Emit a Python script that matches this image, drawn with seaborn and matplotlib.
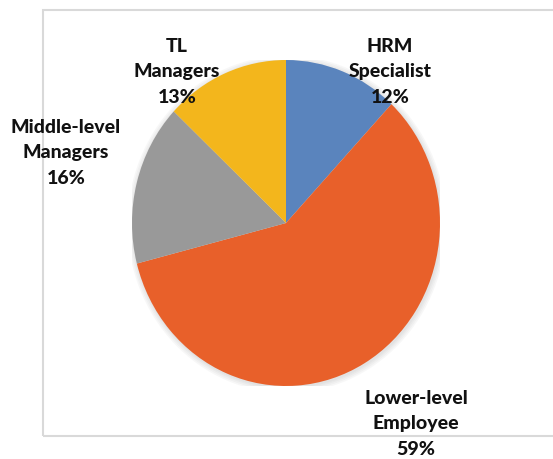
import matplotlib
matplotlib.use("Agg")
import matplotlib.pyplot as plt
import matplotlib.patches as mpatches
import seaborn as sns

# Share of respondents by position
categories = ["HRM\nSpecialist", "Lower-level\nEmployee", "Middle-level\nManagers", "TL\nManagers"]
shares = [12, 59, 16, 13]
colors = ["#5a84bd", "#e8602a", "#999999", "#f3b61c"]

sns.set_theme(style="white")
plt.rcParams["font.family"] = ["Lato", "DejaVu Sans"]

W, H = 553, 459
fig = plt.figure(figsize=(W / 100, H / 100), dpi=100)
fig.patch.set_facecolor("white")

# Light chart-area border (right side runs past the figure edge)
fig.patches.append(mpatches.Rectangle((43 / W, 1 - 436 / H), 560 / W, 426 / H,
                                      transform=fig.transFigure, fill=False,
                                      edgecolor="#d9d9d9", linewidth=1.5))

cx, cy, rx, ry = 286, 223, 154, 163
ax = fig.add_axes([(cx - rx) / W, 1 - (cy + ry) / H, 2 * rx / W, 2 * ry / H])

# soft shadow round the pie
for r in [1.035, 1.025, 1.015, 1.006]:
    ax.add_patch(mpatches.Circle((0.006, -0.008), r, color="#808080",
                                 alpha=0.06, linewidth=0, zorder=0))

wedges, _ = ax.pie(shares, colors=colors, startangle=90, counterclock=False,
                   wedgeprops=dict(linewidth=0))
for w in wedges:
    w.set_zorder(2)
ax.set_aspect("auto")
ax.set_xlim(-1, 1)
ax.set_ylim(-1, 1)
ax.axis("off")

# Data labels: category name and percentage (anchored on the middle line)
label_pos = [(390, 72), (416, 424), (66, 153), (177, 72)]
for name, val, (x, y) in zip(categories, shares, label_pos):
    fig.text(x / W, 1 - y / H, f"{name}\n{val}%", ha="center", va="center",
             fontsize=14, fontweight=900, color="#111111", linespacing=1.58)

fig.savefig("out.png", dpi=100, facecolor="white")
